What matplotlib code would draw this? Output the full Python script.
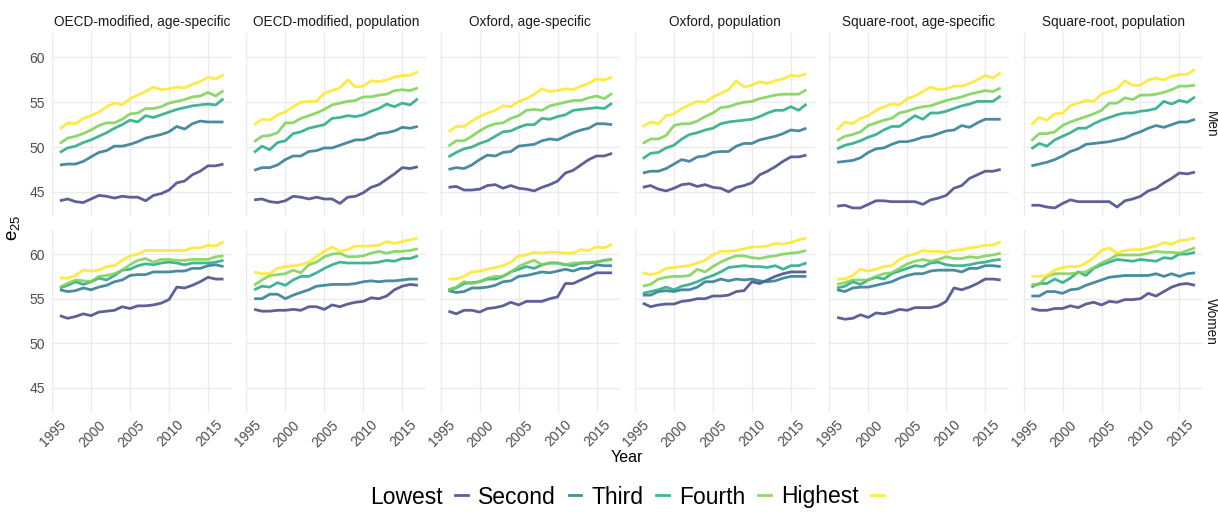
import matplotlib
matplotlib.use("Agg")
import matplotlib.pyplot as plt
from matplotlib.lines import Line2D
import matplotlib.transforms as mtransforms
import numpy as np

plt.rcParams["font.family"] = ["Liberation Sans", "DejaVu Sans"]

years = np.arange(1996, 2018)
quintiles = ["Lowest", "Second", "Third", "Fourth", "Highest"]
colors = ["#414487", "#2A788E", "#22A884", "#7AD151", "#FDE725"]
panel_titles = ["OECD-modified, age-specific", "OECD-modified, population",
                "Oxford, age-specific", "Oxford, population",
                "Square-root, age-specific", "Square-root, population"]
sexes = ["Men", "Women"]
y_ticks = [45, 50, 55, 60]
x_ticks = [1995, 2000, 2005, 2010, 2015]

# Remaining life expectancy at age 25, rows ordered Lowest .. Highest
men_oecd_age = [
    [44.0, 44.2, 43.9, 43.8, 44.2, 44.6, 44.5, 44.3, 44.5, 44.4, 44.4, 44.0, 44.6, 44.8, 45.2, 46.0, 46.2, 46.9, 47.3, 47.9, 47.9, 48.1],
    [48.0, 48.1, 48.1, 48.4, 48.9, 49.4, 49.6, 50.1, 50.1, 50.3, 50.6, 51.0, 51.2, 51.4, 51.7, 52.3, 52.0, 52.6, 52.9, 52.8, 52.8, 52.8],
    [49.4, 49.9, 50.1, 50.5, 50.8, 51.2, 51.6, 52.1, 52.5, 53.0, 52.8, 53.5, 53.3, 53.6, 53.9, 54.2, 54.4, 54.6, 54.7, 54.8, 54.7, 55.4],
    [50.4, 51.0, 51.2, 51.5, 51.9, 52.4, 52.7, 52.7, 53.1, 53.7, 53.8, 54.3, 54.3, 54.5, 54.9, 55.1, 55.3, 55.6, 55.7, 56.1, 55.7, 56.3],
    [52.0, 52.7, 52.6, 53.2, 53.5, 53.9, 54.5, 54.9, 54.7, 55.4, 55.8, 56.2, 56.7, 56.4, 56.5, 56.7, 56.6, 57.0, 57.3, 57.8, 57.6, 58.1],
]
men_oecd_pop = [
    [44.1, 44.2, 43.9, 43.8, 44.0, 44.5, 44.4, 44.2, 44.4, 44.2, 44.2, 43.7, 44.4, 44.5, 44.9, 45.5, 45.8, 46.4, 47.0, 47.7, 47.6, 47.8],
    [47.4, 47.7, 47.7, 48.0, 48.6, 49.0, 49.0, 49.5, 49.6, 49.9, 49.9, 50.2, 50.5, 50.8, 50.8, 51.1, 51.5, 51.6, 51.8, 52.2, 52.1, 52.3],
    [49.4, 50.1, 49.7, 50.5, 50.7, 51.5, 51.7, 52.1, 52.3, 52.5, 53.2, 53.3, 53.5, 53.4, 53.6, 54.0, 54.3, 54.8, 54.5, 54.9, 54.7, 55.4],
    [50.6, 51.2, 51.3, 51.6, 52.7, 52.7, 53.2, 53.5, 53.8, 54.2, 54.7, 54.9, 55.1, 55.2, 55.6, 55.6, 55.8, 55.9, 56.3, 56.4, 56.3, 56.6],
    [52.5, 53.1, 53.0, 53.6, 53.9, 54.5, 55.0, 55.1, 55.1, 56.0, 56.3, 56.6, 57.5, 56.7, 56.8, 57.4, 57.3, 57.5, 57.8, 58.0, 58.0, 58.4],
]
men_oxford_age = [
    [45.5, 45.6, 45.2, 45.2, 45.3, 45.7, 45.8, 45.4, 45.7, 45.4, 45.3, 45.1, 45.5, 45.8, 46.2, 47.1, 47.4, 48.0, 48.6, 49.0, 49.0, 49.3],
    [47.5, 47.7, 47.6, 48.0, 48.6, 49.1, 49.0, 49.4, 49.5, 50.1, 50.2, 50.3, 50.7, 50.9, 50.8, 51.2, 51.6, 51.9, 52.1, 52.6, 52.6, 52.5],
    [48.9, 49.4, 49.8, 50.0, 50.4, 50.7, 51.2, 51.7, 51.8, 52.2, 52.5, 52.5, 53.2, 53.1, 53.4, 53.6, 54.1, 54.2, 54.3, 54.4, 54.3, 54.9],
    [50.1, 50.7, 50.7, 51.2, 51.8, 52.3, 52.6, 52.7, 53.2, 53.5, 54.1, 54.2, 54.1, 54.6, 54.8, 55.0, 55.2, 55.2, 55.5, 55.7, 55.4, 56.0],
    [51.7, 52.3, 52.3, 52.9, 53.4, 53.8, 54.1, 54.6, 54.5, 55.1, 55.4, 55.9, 56.5, 56.2, 56.3, 56.5, 56.4, 56.8, 57.1, 57.6, 57.5, 57.8],
]
men_oxford_pop = [
    [45.5, 45.7, 45.3, 45.1, 45.4, 45.8, 45.9, 45.6, 45.8, 45.5, 45.4, 45.0, 45.5, 45.7, 46.0, 46.9, 47.3, 47.8, 48.4, 48.9, 48.9, 49.1],
    [47.1, 47.3, 47.3, 47.6, 48.1, 48.6, 48.4, 48.9, 49.0, 49.4, 49.5, 49.5, 50.1, 50.4, 50.4, 50.8, 51.0, 51.2, 51.5, 51.9, 51.8, 52.1],
    [48.7, 49.3, 49.4, 49.9, 50.2, 50.9, 51.4, 51.6, 51.9, 52.1, 52.6, 52.8, 52.9, 53.0, 53.1, 53.4, 53.8, 54.1, 54.1, 54.5, 54.1, 54.8],
    [50.4, 50.9, 50.9, 51.3, 52.4, 52.6, 52.6, 52.9, 53.4, 53.8, 54.4, 54.5, 54.8, 55.0, 55.1, 55.4, 55.6, 55.8, 55.9, 55.9, 55.9, 56.4],
    [52.3, 52.8, 52.6, 53.5, 53.7, 54.3, 54.7, 55.1, 55.0, 55.6, 56.0, 56.4, 57.4, 56.7, 56.9, 57.3, 57.1, 57.4, 57.6, 58.0, 57.9, 58.2],
]
men_sqrt_age = [
    [43.4, 43.5, 43.2, 43.2, 43.6, 44.0, 44.0, 43.9, 43.9, 43.9, 43.9, 43.6, 44.1, 44.3, 44.6, 45.4, 45.7, 46.5, 46.9, 47.3, 47.3, 47.5],
    [48.3, 48.4, 48.5, 48.8, 49.4, 49.8, 49.9, 50.3, 50.6, 50.6, 50.8, 51.1, 51.2, 51.5, 51.8, 51.9, 52.4, 52.2, 52.7, 53.1, 53.1, 53.1],
    [49.8, 50.2, 50.4, 50.7, 51.1, 51.4, 51.9, 52.3, 52.3, 52.9, 53.5, 53.1, 53.8, 53.8, 54.0, 54.3, 54.6, 54.8, 55.1, 55.1, 55.1, 55.7],
    [50.7, 51.2, 51.4, 51.7, 52.4, 52.7, 53.0, 53.2, 53.8, 54.0, 54.3, 54.5, 54.6, 54.9, 55.2, 55.4, 55.6, 55.9, 56.1, 56.3, 56.2, 56.6],
    [51.9, 52.8, 52.6, 53.2, 53.5, 54.1, 54.5, 54.8, 54.7, 55.4, 55.7, 56.2, 56.7, 56.4, 56.5, 56.8, 56.8, 57.1, 57.5, 58.0, 57.7, 58.3],
]
men_sqrt_pop = [
    [43.5, 43.5, 43.3, 43.2, 43.7, 44.1, 43.9, 43.9, 43.9, 43.9, 43.9, 43.3, 44.0, 44.2, 44.5, 45.1, 45.4, 46.0, 46.5, 47.1, 47.0, 47.2],
    [47.9, 48.1, 48.3, 48.6, 49.0, 49.5, 49.8, 50.3, 50.4, 50.5, 50.6, 50.8, 51.0, 51.4, 51.7, 52.1, 52.4, 52.2, 52.5, 52.8, 52.8, 53.1],
    [49.8, 50.4, 50.1, 50.8, 51.2, 51.6, 52.1, 52.1, 52.6, 53.0, 53.3, 53.6, 53.8, 53.8, 54.0, 54.1, 54.3, 55.1, 54.8, 55.2, 55.0, 55.6],
    [50.7, 51.5, 51.5, 51.7, 52.4, 52.8, 53.1, 53.4, 53.7, 54.1, 54.9, 54.9, 55.5, 55.3, 55.8, 55.8, 55.9, 56.1, 56.4, 56.8, 56.8, 56.9],
    [52.5, 53.3, 53.0, 53.7, 53.8, 54.6, 54.9, 55.2, 55.1, 55.9, 56.2, 56.5, 57.4, 56.9, 56.9, 57.5, 57.7, 57.5, 57.9, 58.1, 58.1, 58.7],
]
women_oecd_age = [
    [53.1, 52.8, 53.0, 53.3, 53.1, 53.5, 53.6, 53.7, 54.1, 53.9, 54.2, 54.2, 54.3, 54.5, 54.9, 56.3, 56.2, 56.5, 56.9, 57.4, 57.2, 57.2],
    [56.0, 55.8, 55.9, 56.2, 56.0, 56.3, 56.5, 56.9, 57.1, 57.6, 57.7, 57.7, 58.0, 58.0, 58.0, 58.1, 58.1, 58.4, 58.4, 58.7, 58.8, 58.6],
    [56.2, 56.5, 56.9, 56.6, 56.9, 57.3, 57.1, 57.6, 58.2, 58.3, 58.7, 58.9, 58.8, 59.0, 59.1, 59.0, 58.8, 59.0, 59.0, 59.0, 59.1, 59.3],
    [56.3, 56.7, 57.1, 57.0, 56.9, 57.5, 57.6, 57.8, 58.2, 58.8, 59.3, 59.5, 59.1, 59.4, 59.4, 59.3, 59.3, 59.4, 59.4, 59.4, 59.7, 59.8],
    [57.3, 57.3, 57.6, 58.2, 58.1, 58.2, 58.6, 58.7, 59.3, 59.8, 60.0, 60.4, 60.4, 60.4, 60.4, 60.4, 60.4, 60.7, 60.7, 61.0, 60.9, 61.4],
]
women_oecd_pop = [
    [53.8, 53.6, 53.6, 53.7, 53.7, 53.8, 53.7, 54.1, 54.1, 53.8, 54.3, 54.1, 54.4, 54.6, 54.7, 55.1, 55.0, 55.3, 56.0, 56.4, 56.6, 56.5],
    [55.0, 55.0, 55.5, 55.5, 55.0, 55.4, 55.7, 56.0, 56.4, 56.5, 56.6, 56.6, 56.6, 56.7, 56.9, 57.0, 56.9, 57.0, 57.0, 57.1, 57.2, 57.2],
    [56.0, 56.4, 56.3, 56.8, 56.5, 57.1, 57.5, 57.5, 57.9, 58.4, 58.8, 59.1, 59.0, 59.0, 59.0, 59.0, 59.1, 59.3, 59.2, 59.5, 59.5, 59.8],
    [56.5, 57.1, 57.6, 57.7, 57.8, 58.2, 57.9, 58.8, 59.1, 59.7, 60.0, 60.1, 59.7, 59.7, 59.8, 60.1, 60.3, 60.1, 60.3, 60.3, 60.4, 60.6],
    [58.0, 57.8, 57.8, 58.4, 58.6, 58.7, 58.8, 59.1, 59.7, 60.3, 60.8, 60.3, 60.5, 60.9, 60.9, 60.9, 61.0, 61.4, 61.2, 61.4, 61.6, 61.8],
]
women_oxford_age = [
    [53.6, 53.3, 53.7, 53.7, 53.5, 53.9, 54.0, 54.2, 54.6, 54.3, 54.7, 54.7, 54.7, 55.0, 55.2, 56.7, 56.7, 57.1, 57.5, 57.9, 57.9, 57.9],
    [55.9, 55.7, 55.8, 56.2, 56.2, 56.3, 56.5, 56.9, 57.0, 57.5, 57.6, 57.8, 58.0, 57.9, 58.1, 58.3, 58.1, 58.4, 58.4, 58.8, 58.7, 58.7],
    [56.0, 56.2, 56.7, 56.8, 56.9, 57.2, 57.2, 57.5, 58.0, 58.3, 58.6, 58.4, 58.8, 59.0, 59.0, 58.8, 58.7, 59.0, 59.0, 59.1, 59.3, 59.4],
    [56.0, 56.3, 56.9, 56.7, 56.9, 57.3, 57.5, 57.5, 58.0, 58.6, 59.0, 59.3, 58.8, 59.0, 59.0, 58.8, 59.0, 59.0, 59.1, 59.1, 59.3, 59.4],
    [57.2, 57.2, 57.5, 58.0, 58.1, 58.3, 58.5, 58.7, 59.1, 59.8, 59.9, 60.2, 60.1, 60.2, 60.2, 60.1, 60.1, 60.5, 60.4, 60.8, 60.7, 61.1],
]
women_oxford_pop = [
    [54.5, 54.1, 54.3, 54.4, 54.4, 54.7, 54.8, 55.0, 55.0, 55.3, 55.3, 55.4, 55.8, 55.9, 56.9, 56.7, 57.1, 57.5, 57.8, 58.0, 58.0, 58.0],
    [55.4, 55.4, 55.8, 55.9, 55.8, 56.0, 56.0, 56.3, 56.9, 56.9, 57.2, 57.0, 57.2, 57.1, 57.2, 57.0, 56.9, 57.0, 57.3, 57.5, 57.5, 57.5],
    [55.6, 55.8, 56.0, 56.3, 56.0, 56.4, 56.6, 56.9, 57.3, 57.6, 58.0, 58.5, 58.6, 58.7, 58.6, 58.6, 58.5, 58.7, 58.3, 58.7, 58.7, 59.0],
    [56.4, 56.6, 57.2, 57.4, 57.5, 57.5, 57.6, 58.3, 58.0, 58.6, 59.1, 59.5, 59.8, 59.8, 59.6, 59.5, 59.7, 59.8, 60.0, 60.1, 60.2, 60.4],
    [57.9, 57.7, 57.9, 58.4, 58.5, 58.6, 58.7, 59.0, 59.3, 59.9, 60.3, 60.3, 60.4, 60.6, 60.8, 60.8, 60.9, 61.2, 61.1, 61.3, 61.6, 61.8],
]
women_sqrt_age = [
    [52.9, 52.7, 52.8, 53.2, 52.9, 53.4, 53.3, 53.5, 53.8, 53.7, 54.0, 54.0, 54.0, 54.2, 54.7, 56.2, 56.0, 56.3, 56.7, 57.2, 57.2, 57.1],
    [56.0, 55.8, 56.2, 56.3, 56.3, 56.5, 56.7, 56.9, 57.3, 57.6, 57.8, 57.8, 58.1, 58.2, 58.2, 58.2, 58.0, 58.4, 58.4, 58.7, 58.7, 58.6],
    [56.2, 56.4, 56.9, 56.6, 57.1, 57.4, 57.2, 57.8, 58.1, 58.4, 58.7, 58.6, 59.0, 59.1, 58.8, 58.7, 58.7, 58.8, 59.0, 59.1, 59.3, 59.4],
    [56.6, 56.8, 57.1, 57.1, 57.1, 57.5, 57.8, 57.9, 58.4, 58.9, 59.2, 59.4, 59.2, 59.4, 59.7, 59.5, 59.5, 59.7, 59.6, 59.8, 59.9, 60.1],
    [57.2, 57.2, 57.6, 58.3, 58.1, 58.3, 58.6, 58.7, 59.4, 59.8, 60.0, 60.4, 60.3, 60.3, 60.2, 60.4, 60.5, 60.7, 60.8, 61.0, 61.0, 61.4],
]
women_sqrt_pop = [
    [53.9, 53.7, 53.7, 53.9, 53.9, 54.2, 54.0, 54.4, 54.6, 54.3, 54.7, 54.6, 54.9, 54.9, 55.0, 55.6, 55.3, 55.8, 56.3, 56.6, 56.7, 56.5],
    [55.3, 55.3, 55.8, 55.8, 55.6, 56.0, 56.1, 56.5, 56.8, 57.1, 57.4, 57.5, 57.6, 57.6, 57.6, 57.6, 57.8, 57.5, 57.8, 57.5, 57.8, 57.9],
    [56.3, 56.7, 56.7, 57.2, 56.8, 57.3, 58.0, 57.6, 58.4, 58.8, 59.1, 59.4, 59.3, 59.2, 59.4, 59.3, 59.2, 59.6, 59.5, 60.0, 60.0, 60.2],
    [56.6, 56.6, 57.5, 57.8, 57.8, 57.8, 57.9, 58.0, 58.5, 59.0, 59.4, 59.9, 59.9, 59.9, 59.9, 60.1, 60.3, 60.2, 60.2, 60.1, 60.4, 60.7],
    [57.5, 57.5, 57.6, 58.2, 58.5, 58.6, 58.6, 59.0, 59.6, 60.4, 60.7, 60.1, 60.4, 60.5, 60.5, 60.7, 60.9, 61.3, 61.1, 61.5, 61.6, 61.8],
]

grid = [
    [men_oecd_age, men_oecd_pop, men_oxford_age, men_oxford_pop, men_sqrt_age, men_sqrt_pop],
    [women_oecd_age, women_oecd_pop, women_oxford_age, women_oxford_pop, women_sqrt_age, women_sqrt_pop],
]

W, H = 1218, 512
fig = plt.figure(figsize=(W / 100, H / 100), dpi=100)
fig.patch.set_facecolor("white")

panel_w = 180.0
panel_step = 194.3
left0 = 51.7
rows_px = [(33.3, 216.0), (230.0, 412.0)]
grid_col = "#EBEBEB"
text_col = "#4D4D4D"
label_shift = mtransforms.ScaledTranslation(7 / 100, -3 / 100, fig.dpi_scale_trans)

for r, (top, bottom) in enumerate(rows_px):
    for c in range(6):
        x0 = left0 + c * panel_step
        ax = fig.add_axes([x0 / W, 1 - bottom / H, panel_w / W, (bottom - top) / H])
        for q, series in enumerate(grid[r][c]):
            ax.plot(years, series, color=colors[q], lw=2.0, alpha=0.85,
                    solid_joinstyle="round", solid_capstyle="butt", zorder=3)
        ax.set_xlim(1994.95, 2018.05)
        ax.set_ylim(42.3, 62.7)
        ax.set_xticks(x_ticks)
        ax.set_yticks(y_ticks)
        ax.grid(True, color=grid_col, lw=1.0, zorder=0)
        ax.set_axisbelow(True)
        for s in ax.spines.values():
            s.set_visible(False)
        ax.tick_params(length=0, labelsize=10, labelcolor=text_col)
        ax.tick_params(axis="y", pad=5)
        ax.tick_params(axis="x", pad=2)
        if r == 0:
            ax.set_title(panel_titles[c], fontsize=9.8, color="#1A1A1A", pad=5)
            ax.tick_params(labelbottom=False)
        else:
            for lab in ax.get_xticklabels():
                lab.set_rotation(45)
                lab.set_ha("right")
                lab.set_rotation_mode("anchor")
                lab.set_transform(lab.get_transform() + label_shift)
        if c != 0:
            ax.tick_params(labelleft=False)
    fig.text(1211 / W, 1 - (top + bottom) / 2 / H, sexes[r], rotation=-90,
             ha="center", va="center", fontsize=9.8, color="#1A1A1A")

fig.text(13 / W, 1 - 228 / H, r"$\mathregular{e_{25}}$", rotation=90,
         ha="center", va="center", fontsize=13.5, color="black")
fig.text(627 / W, 1 - 458 / H, "Year", ha="center", va="center",
         fontsize=11.5, color="black")

handles = [Line2D([], [], color=col, lw=2.0, alpha=0.85) for col in colors]
fig.legend(handles, quintiles, loc="center", bbox_to_anchor=(627 / W, 1 - 497 / H),
           ncol=5, frameon=False, markerfirst=False, fontsize=16.5,
           handlelength=0.55, handletextpad=0.55, columnspacing=0.45)

fig.savefig("out.png", dpi=100)
